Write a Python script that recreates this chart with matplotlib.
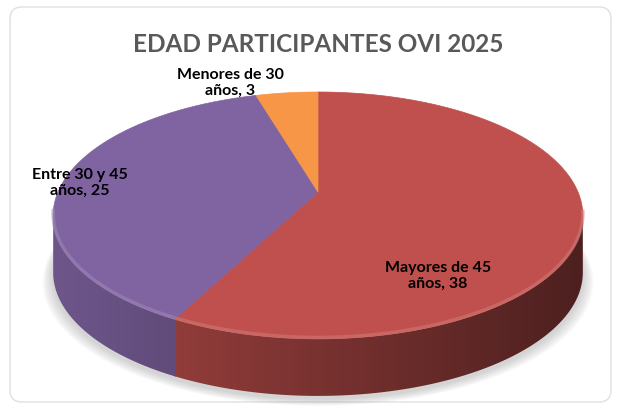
import numpy as np
import matplotlib.pyplot as plt
from matplotlib.patches import FancyBboxPatch, Polygon
import matplotlib.colors as mcolors

# data (clockwise from 12 o'clock)
labels = ['Mayores de 45\naños, 38', 'Entre 30 y 45\naños, 25', 'Menores de 30\naños, 3']
values = [38, 25, 3]
colors = ['#C0504D', '#8064A2', '#F79646']
label_pos = [(438, 276), (80, 183), (230, 83)]
title = 'EDAD PARTICIPANTES OVI 2025'

# perspective mapping of the pie disc onto the picture (pixel coords)
cx, cy = 318, 193
a, b, g = 260, 119, 0.19
depth = 57


def proj(u, v, down=0.0):
    s = 1 + g * v
    return cx + a * u / s, cy - b * v / s + down


def arc(p0, p1, n):
    phi = np.linspace(p0, p1, n)
    return np.sin(phi), np.cos(phi)


fig = plt.figure(figsize=(6.17, 4.14), dpi=100)
ax = fig.add_axes([0, 0, 1, 1])
ax.set_xlim(0, 617)
ax.set_ylim(414, 0)
ax.axis('off')

card = FancyBboxPatch((10, 8), 601, 395, boxstyle='round,pad=0,rounding_size=12',
                      facecolor='white', edgecolor='#e0e0e0', lw=1)
ax.add_patch(card)

# soft shadow under the pie
u, v = arc(0, 2 * np.pi, 200)
sx, sy = proj(u, v, depth + 3)
for i in range(10, 0, -1):
    ex = cx + (sx - cx) * (1 + i * 0.004)
    ey = sy + i * 0.7
    ax.add_patch(Polygon(np.c_[ex, ey], closed=True, facecolor='#808080',
                         edgecolor='none', alpha=0.035))

fracs = np.array(values) / sum(values)
bounds = np.concatenate([[0], np.cumsum(fracs)]) * 2 * np.pi

# side walls, shaded left to right
xs = np.linspace(0, 617, 618)
kk = np.clip(0.86 - 0.46 * (xs - 52) / 530, 0.3, 1)
for i, col in enumerate(colors):
    base = np.array(mcolors.to_rgb(col))
    u, v = arc(bounds[i] - 0.004, bounds[i + 1] + 0.004, 400)
    keep = v < -g + 0.01
    if not keep.any():
        continue
    u, v = u[keep], v[keep]
    x0, y0 = proj(u, v)
    x1, y1 = proj(u, v, depth)
    wall = np.vstack([np.c_[x0, y0], np.c_[x1, y1][::-1]])
    patch = Polygon(wall, closed=True, facecolor='none', edgecolor='none')
    ax.add_patch(patch)
    img = np.clip(base[None, None, :] * kk[None, :, None], 0, 1)
    im = ax.imshow(img, extent=(0, 617, 414, 0), aspect='auto',
                   interpolation='bilinear', zorder=1 + i * 0.01)
    im.set_clip_path(patch)

# top faces
for i, col in enumerate(colors):
    u, v = arc(bounds[i], bounds[i + 1], 200)
    x, y = proj(u, v)
    pts = np.vstack([[cx, cy], np.c_[x, y]])
    ax.add_patch(Polygon(pts, closed=True, facecolor=col, edgecolor=col, lw=0.5, zorder=2))
    # light bevel along the front rim
    front = v < -g + 0.05
    if front.any():
        light = mcolors.to_rgb(col)
        light = [c + (1 - c) * 0.22 for c in light]
        ax.plot(x[front], y[front] - 1.5, color=light, lw=2.5, alpha=0.6,
                solid_capstyle='butt', zorder=3)

ax.text(318, 52, title, ha='center', va='baseline', fontsize=17.5,
        fontweight='bold', color='#595959', family=['Lato', 'DejaVu Sans'])

for lab, (lx, ly) in zip(labels, label_pos):
    ax.text(lx, ly, lab, ha='center', va='center', fontsize=11.5,
            fontweight='bold', color='black', linespacing=1.15,
            family=['Lato', 'DejaVu Sans'], zorder=4)

fig.savefig('out.png', dpi=100)
